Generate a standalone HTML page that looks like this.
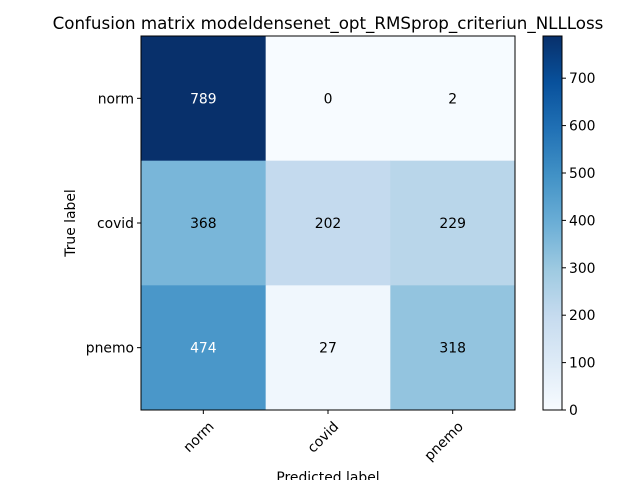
<!DOCTYPE html>
<html><head><meta charset="utf-8"><style>
body{margin:0;background:#fff;font-family:"Liberation Sans","DejaVu Sans",sans-serif}
svg text{font-family:"DejaVu Sans","Liberation Sans",sans-serif}
</style></head><body>
<svg id="chart" width="640" height="480" xmlns="http://www.w3.org/2000/svg">
<defs><linearGradient id="cbg" x1="0" y1="1" x2="0" y2="0">
<stop offset="0" stop-color="#f7fbff"/><stop offset="0.125" stop-color="#deebf7"/><stop offset="0.25" stop-color="#c6dbef"/><stop offset="0.375" stop-color="#9ecae1"/><stop offset="0.5" stop-color="#6baed6"/><stop offset="0.625" stop-color="#4292c6"/><stop offset="0.75" stop-color="#2171b5"/><stop offset="0.875" stop-color="#08519c"/><stop offset="1" stop-color="#08306b"/>
</linearGradient></defs>
<text x="328" y="29" text-anchor="middle" font-size="16.7">Confusion matrix modeldensenet_opt_RMSprop_criteriun_NLLLoss</text>
<g id="cells"></g>
<rect x="141" y="36" width="374" height="374" fill="none" stroke="#000" stroke-width="1"/>
<g id="axes"></g>
<text x="328" y="482" text-anchor="middle" font-size="13.9">Predicted label</text>
<text transform="translate(75,223) rotate(-90)" text-anchor="middle" font-size="13.9">True label</text>
<rect x="543" y="36" width="19" height="374" fill="url(#cbg)"/>
<rect x="543" y="36" width="19" height="374" fill="none" stroke="#000" stroke-width="1"/>
<g id="cbticks"></g>
</svg>
<script>
const classes = ["norm","covid","pnemo"];
const matrix = [[789,0,2],[368,202,229],[474,27,318]];
const cbTicks = [0,100,200,300,400,500,600,700];
const NS="http://www.w3.org/2000/svg";
const stops=["#f7fbff","#deebf7","#c6dbef","#9ecae1","#6baed6","#4292c6","#2171b5","#08519c","#08306b"].map(h=>[1,3,5].map(i=>parseInt(h.substr(i,2),16)));
function blues(t){t=Math.max(0,Math.min(1,t));const p=t*8,i=Math.min(7,Math.floor(p)),f=p-i;const c=stops[i].map((v,k)=>Math.round(v+(stops[i+1][k]-v)*f));return `rgb(${c})`;}
const vmax=Math.max(...matrix.flat()), vmin=Math.min(...matrix.flat());
const x0=141,y0=36,W=374,H=374,n=classes.length,cw=W/n,ch=H/n;
const xs=i=>x0+i*cw, ys=i=>y0+i*ch;
const cbY=v=>410-(v-vmin)/(vmax-vmin)*374;
function mk(tag,attrs,parent){const e=document.createElementNS(NS,tag);for(const k in attrs)e.setAttribute(k,attrs[k]);parent.appendChild(e);return e;}
const cells=document.getElementById("cells"),axes=document.getElementById("axes"),cb=document.getElementById("cbticks");
matrix.forEach((row,r)=>row.forEach((v,c)=>{
 const rc=mk("rect",{x:xs(c),y:ys(r),width:cw+0.5,height:ch+0.5,fill:blues((v-vmin)/(vmax-vmin))},cells);
 
 
 const t=mk("text",{x:xs(c)+cw/2,y:ys(r)+ch/2+5,"text-anchor":"middle","font-size":"13.9",fill:v>vmax/2?"#fff":"#000"},cells);
 t.textContent=v;
 
 
}));
classes.forEach((name,i)=>{
 const cx=xs(i)+cw/2;
 mk("line",{x1:cx,y1:410,x2:cx,y2:414,stroke:"#000"},axes);
 const t=mk("text",{transform:`translate(${cx+5},${421}) rotate(-45)`,"text-anchor":"end","font-size":"13.9"},axes);
 t.setAttribute("dy","9");t.textContent=name;
 
 
 const cy=ys(i)+ch/2;
 mk("line",{x1:137,y1:cy,x2:141,y2:cy,stroke:"#000"},axes);
 const ty=mk("text",{x:134,y:cy+5,"text-anchor":"end","font-size":"13.9"},axes);
 ty.textContent=name;
 
 
});
cbTicks.forEach(v=>{
 const y=cbY(v);
 mk("line",{x1:562,y1:y,x2:566,y2:y,stroke:"#000"},cb);
 const t=mk("text",{x:569,y:y+5,"font-size":"13.9"},cb);
 t.textContent=v;
 
 
});
</script>
</body></html>
